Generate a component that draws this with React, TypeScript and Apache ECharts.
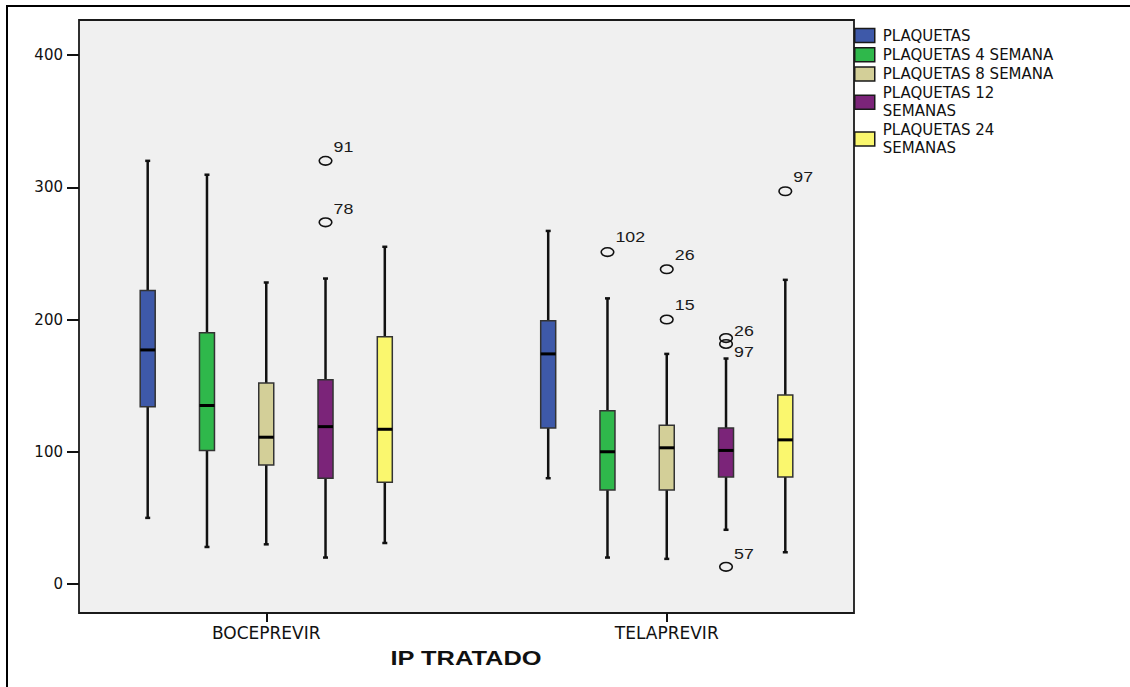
import React, { useEffect, useRef } from "react";
import * as echarts from "echarts";

const CATEGORIES = ["BOCEPREVIR", "TELAPREVIR"];
const SERIES_NAMES = [
  "PLAQUETAS",
  "PLAQUETAS 4 SEMANA",
  "PLAQUETAS 8 SEMANA",
  "PLAQUETAS 12\nSEMANAS",
  "PLAQUETAS 24\nSEMANAS",
];
// [min, Q1, median, Q3, max] for each category
const PLAQUETAS = [
  [50, 134, 177, 222, 320],
  [80, 118, 174, 199, 267],
];
const PLAQUETAS_4 = [
  [28, 101, 135, 190, 309.5],
  [20, 71, 100, 131, 216],
];
const PLAQUETAS_8 = [
  [30, 90, 111, 152, 228],
  [19, 71, 103, 120, 174],
];
const PLAQUETAS_12 = [
  [20, 80, 119, 154.5, 231],
  [41, 81, 101, 118, 170.5],
];
const PLAQUETAS_24 = [
  [31, 77, 117, 187, 255],
  [24, 81, 109, 143, 230],
];
const OUTLIER_CATEGORY = [0, 0, 1, 1, 1, 1, 1, 1, 1];
const OUTLIER_SERIES = [3, 3, 1, 2, 2, 3, 3, 3, 4];
const OUTLIER_VALUES = [320, 273.5, 251, 238, 200, 186, 181.5, 13, 297];
const OUTLIER_CASES = ["91", "78", "102", "26", "15", "26", "97", "57", "97"];
const Y_TICKS = [0, 100, 200, 300, 400];

// styling / placement
const COLORS = ["#3E59A9", "#2FB84B", "#D3CF98", "#7B2479", "#FAF76E"];
const LABEL_DY = [-14, -13, -15, -14, -14, -7, 8, -13, -14];
const SPACING = 0.148; // fraction of band between boxes
const BOX_HALF = 7.5;
const TEXT_STRETCH = 1.27;

const ALL_SERIES = [PLAQUETAS, PLAQUETAS_4, PLAQUETAS_8, PLAQUETAS_12, PLAQUETAS_24];

export default function App() {
  const ref = useRef<HTMLDivElement>(null);
  useEffect(() => {
    document.body.style.margin = "0";
    const chart = echarts.init(ref.current!, null, { renderer: "svg" });

    const renderBox = (params: any, api: any) => {
      const cat = api.value(0);
      const band = api.size([1, 0])[0];
      const cx = api.coord([cat, 0])[0] + (params.seriesIndex - 2) * SPACING * band;
      const y = (i: number) => api.coord([cat, api.value(i)])[1];
      const yMin = y(1), yQ1 = y(2), yMed = y(3), yQ3 = y(4), yMax = y(5);
      const color = api.visual("color");
      const w = { stroke: "#111", lineWidth: 2.5 };
      return {
        type: "group",
        children: [
          { type: "line", shape: { x1: cx, y1: yMax, x2: cx, y2: yQ3 }, style: w },
          { type: "line", shape: { x1: cx, y1: yQ1, x2: cx, y2: yMin }, style: w },
          { type: "line", shape: { x1: cx - 2.5, y1: yMax, x2: cx + 2.5, y2: yMax }, style: w },
          { type: "line", shape: { x1: cx - 2.5, y1: yMin, x2: cx + 2.5, y2: yMin }, style: w },
          {
            type: "rect",
            shape: { x: cx - BOX_HALF, y: yQ3, width: BOX_HALF * 2, height: yQ1 - yQ3 },
            style: { fill: color, stroke: "#333", lineWidth: 1.5 },
          },
          {
            type: "line",
            shape: { x1: cx - BOX_HALF, y1: yMed, x2: cx + BOX_HALF, y2: yMed },
            style: { stroke: "#000", lineWidth: 3 },
          },
        ],
      };
    };

    const renderOutlier = (params: any, api: any) => {
      const cat = api.value(0);
      const band = api.size([1, 0])[0];
      const s = api.value(2);
      const pt = api.coord([cat, api.value(1)]);
      const cx = pt[0] + (s - 2) * SPACING * band;
      const cy = pt[1];
      const idx = params.dataIndex;
      return {
        type: "group",
        children: [
          {
            type: "ellipse",
            shape: { cx, cy, rx: 6.3, ry: 4.3 },
            style: { fill: "none", stroke: "#111", lineWidth: 1.6 },
          },
          {
            type: "text",
            x: cx + 8,
            y: cy + LABEL_DY[idx],
            scaleX: TEXT_STRETCH,
            style: {
              text: OUTLIER_CASES[idx],
              fill: "#1a1a1a",
              font: '14px "Liberation Sans"',
              textAlign: "left",
              textVerticalAlign: "middle",
            },
          },
        ],
      };
    };

    const boxSeries = ALL_SERIES.map((arr, i) => ({
      type: "custom",
      name: SERIES_NAMES[i],
      renderItem: renderBox,
      itemStyle: { color: COLORS[i] },
      encode: { x: 0, y: [1, 2, 3, 4, 5] },
      data: arr.map((v, c) => [c, ...v]),
      z: 3,
    }));

    const outlierSeries = {
      type: "custom",
      name: "outliers",
      renderItem: renderOutlier,
      encode: { x: 0, y: 1 },
      data: OUTLIER_VALUES.map((v, i) => [OUTLIER_CATEGORY[i], v, OUTLIER_SERIES[i], i]),
      z: 4,
    };

    chart.setOption({
      animation: false,
      grid: { left: 66, top: 20, width: 801, height: 593, containLabel: false },
      legend: {
        data: SERIES_NAMES,
        orient: "vertical",
        left: 849,
        top: 21.75,
        itemWidth: 20,
        itemHeight: 14,
        itemGap: 1.8,
        icon: "rect",
        selectedMode: false,
        itemStyle: { borderColor: "#1a1a1a", borderWidth: 1.5 },
        textStyle: {
          fontFamily: "DejaVu Sans",
          fontSize: 15,
          lineHeight: 17.5,
          color: "#111",
          padding: [0, 0, 0, 3],
        },
      },
      xAxis: {
        type: "category",
        data: CATEGORIES,
        boundaryGap: true,
        axisLine: { show: false, onZero: false },
        axisTick: { show: true, alignWithLabel: true, length: 9, lineStyle: { color: "#111", width: 2 } },
        axisLabel: { fontFamily: "DejaVu Sans", fontSize: 17, color: "#111", margin: 11 },
        splitLine: { show: false },
      },
      yAxis: {
        type: "value",
        min: -21.93,
        max: 426.5,
        offset: -13,
        axisLine: { show: false },
        axisTick: {
          show: true,
          length: 12,
          customValues: Y_TICKS,
          lineStyle: { color: "#111", width: 2 },
        },
        axisLabel: {
          customValues: Y_TICKS,
          fontFamily: "DejaVu Sans",
          fontSize: 15,
          color: "#111",
          margin: 16,
        },
        splitLine: { show: false },
      },
      graphic: [
        {
          type: "rect",
          z: -10,
          silent: true,
          shape: { x: 7, y: 6, width: 1200, height: 800 },
          style: { fill: "#fff", stroke: "#000", lineWidth: 2 },
        },
        {
          type: "rect",
          z: -5,
          silent: true,
          shape: { x: 79, y: 20, width: 775, height: 593 },
          style: { fill: "#F0F0F0", stroke: "#1a1a1a", lineWidth: 1.8 },
        },
        {
          type: "text",
          x: 466,
          y: 658,
          scaleX: TEXT_STRETCH,
          silent: true,
          style: {
            text: "IP TRATADO",
            font: 'bold 20px "Liberation Sans"',
            fill: "#111",
            textAlign: "center",
            textVerticalAlign: "middle",
          },
        },
      ],
      series: [...boxSeries, outlierSeries],
    });
    return () => chart.dispose();
  }, []);
  return <div ref={ref} style={{ width: 1130, height: 687 }} />;
}
